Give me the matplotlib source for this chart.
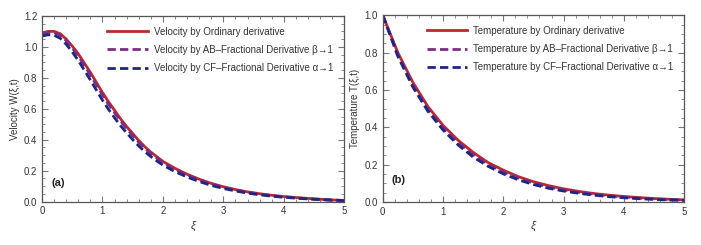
import matplotlib.pyplot as plt
from matplotlib.ticker import MultipleLocator

xi = [0, 0.1, 0.2, 0.3, 0.4, 0.5, 0.6, 0.7, 0.8, 0.9, 1.0, 1.1, 1.2, 1.3, 1.4, 1.5,
      1.6, 1.7, 1.8, 1.9, 2.0, 2.2, 2.4, 2.6, 2.8, 3.0, 3.2, 3.4, 3.6, 3.8, 4.0,
      4.25, 4.5, 4.75, 5.0]

# velocity W(xi,t)
w_ord = [1.09, 1.10, 1.10, 1.085, 1.05, 1.005, 0.955, 0.895, 0.835, 0.77, 0.705, 0.645,
         0.59, 0.535, 0.485, 0.44, 0.395, 0.355, 0.32, 0.29, 0.26, 0.215, 0.177, 0.145,
         0.118, 0.096, 0.078, 0.063, 0.051, 0.041, 0.033, 0.025, 0.018, 0.012, 0.008]
w_ab = [1.083, 1.093, 1.092, 1.076, 1.04, 0.993, 0.941, 0.88, 0.819, 0.754, 0.689, 0.629,
        0.575, 0.521, 0.472, 0.428, 0.384, 0.345, 0.311, 0.282, 0.253, 0.209, 0.172, 0.141,
        0.114, 0.093, 0.075, 0.061, 0.049, 0.039, 0.031, 0.023, 0.017, 0.011, 0.007]
w_cf = [1.07, 1.078, 1.075, 1.056, 1.017, 0.967, 0.912, 0.849, 0.786, 0.72, 0.655, 0.596,
        0.542, 0.49, 0.444, 0.401, 0.36, 0.323, 0.291, 0.263, 0.236, 0.194, 0.159, 0.13,
        0.105, 0.085, 0.069, 0.055, 0.044, 0.035, 0.028, 0.021, 0.015, 0.010, 0.006]

# temperature T(xi,t)
xt = [0, 0.25, 0.5, 0.75, 1.0, 1.25, 1.5, 1.75, 2.0, 2.25, 2.5, 2.75, 3.0, 3.25, 3.5,
      3.75, 4.0, 4.25, 4.5, 4.75, 5.0]
t_ord = [1.0, 0.80, 0.64, 0.51, 0.41, 0.33, 0.265, 0.21, 0.17, 0.135, 0.108, 0.087, 0.07,
         0.056, 0.045, 0.036, 0.029, 0.023, 0.018, 0.014, 0.011]
t_ab = [1.0, 0.79, 0.628, 0.498, 0.398, 0.318, 0.253, 0.2, 0.16, 0.127, 0.1, 0.08, 0.064,
        0.051, 0.041, 0.032, 0.026, 0.02, 0.016, 0.012, 0.009]
t_cf = [1.0, 0.78, 0.615, 0.485, 0.385, 0.305, 0.24, 0.19, 0.15, 0.118, 0.093, 0.073, 0.058,
        0.046, 0.036, 0.028, 0.022, 0.017, 0.013, 0.010, 0.008]

red = '#c0272d'
purple = '#7b2d82'
navy = '#1f2580'
txt = '#333333'

plt.rcParams['font.family'] = ['Liberation Sans', 'DejaVu Sans']
plt.rcParams['font.size'] = 7

fig = plt.figure(figsize=(7.01, 2.45), dpi=100)
ax1 = fig.add_axes([0.060, 0.177, 0.431, 0.758])
ax2 = fig.add_axes([0.546, 0.176, 0.430, 0.762])

def style(ax, ymax, ylabel, tag):
    ax.set_xlim(0, 5)
    ax.set_ylim(0, ymax)
    ax.xaxis.set_major_locator(MultipleLocator(1))
    ax.xaxis.set_minor_locator(MultipleLocator(0.2))
    ax.yaxis.set_major_locator(MultipleLocator(0.2))
    ax.yaxis.set_minor_locator(MultipleLocator(0.05))
    ax.tick_params(which='both', direction='in', top=True, right=True, colors='#777777',
                   labelcolor=txt, labelsize=7)
    ax.tick_params(which='major', length=4, width=0.8)
    ax.tick_params(which='minor', length=2, width=0.6)
    ax.set_yticklabels([f'{v:.1f}' for v in ax.get_yticks()])
    for s in ax.spines.values():
        s.set_color('#555555')
        s.set_linewidth(0.9)
    ax.set_ylabel(ylabel, color=txt, fontsize=7, labelpad=3)
    ax.set_xlabel('ξ', color=txt, fontsize=8, labelpad=3, fontstyle='italic')
    ax.text(0.15, 0.1, tag, fontsize=8, fontweight='bold', color='#222222')
    ax.legend(loc='upper right', frameon=False, handlelength=4.2, handletextpad=0.6,
              labelspacing=0.85, fontsize=7, borderaxespad=0.7, labelcolor=txt)

ax1.plot(xi, w_ord, color=red, lw=2, label='Velocity by Ordinary derivative')
ax1.plot(xi, w_ab, color=purple, lw=2, ls=(0, (3, 1.5)),
         label='Velocity by AB–Fractional Derivative β→1')
ax1.plot(xi, w_cf, color=navy, lw=2, ls=(0, (3, 1.5)),
         label='Velocity by CF–Fractional Derivative α→1')
style(ax1, 1.2, 'Velocity W(ξ,t)', '(a)')

ax2.plot(xt, t_ord, color=red, lw=2, label='Temperature by Ordinary derivative')
ax2.plot(xt, t_ab, color=purple, lw=2, ls=(0, (3, 1.5)),
         label='Temperature by AB–Fractional Derivative β→1')
ax2.plot(xt, t_cf, color=navy, lw=2, ls=(0, (3, 1.5)),
         label='Temperature by CF–Fractional Derivative α→1')
style(ax2, 1.0, 'Temperature T(ξ,t)', '(b)')

fig.savefig('out.png', dpi=100)
